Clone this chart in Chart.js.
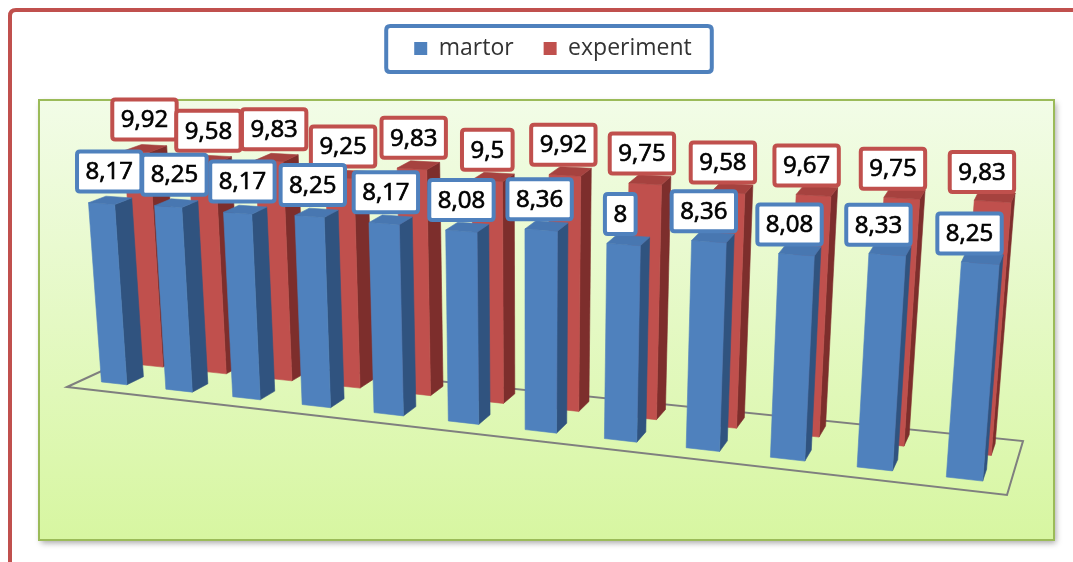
<!DOCTYPE html>
<html>
<head>
<meta charset="utf-8">
<script src="https://cdn.jsdelivr.net/npm/chart.js@4.4.1/dist/chart.umd.min.js"></script>
<style>
  html, body { margin: 0; padding: 0; background: #ffffff; }
  canvas { display: block; }
</style>
</head>
<body>
<canvas id="chart" width="1073" height="562"></canvas>
<script>
// ---- data ----
const categories = ['1', '2', '3', '4', '5', '6', '7', '8', '9', '10', '11', '12'];
const seriesNames = ['martor', 'experiment'];
const martor = [8.17, 8.25, 8.17, 8.25, 8.17, 8.08, 8.36, 8, 8.36, 8.08, 8.33, 8.25];
const experiment = [9.92, 9.58, 9.83, 9.25, 9.83, 9.5, 9.92, 9.75, 9.58, 9.67, 9.75, 9.83];

// ---- look ----
const seriesColors = ['#4f81bd', '#c0504d'];
const faceColors = [
  { front: '#4f81bd', side: '#30537f', top: '#4877b1' },
  { front: '#c0504d', side: '#7d2e2c', top: '#a6423f' }
];
// depth slots (0 = front edge of floor, 1 = back edge) for each series
const depthSlots = [[0.20, 0.42], [0.68, 0.90]];

// perspective view of the 3D column scene
const VIEW = {
  front: [67, 387], frontEnd: [1007, 495], // floor front edge
  depthL: [78, -36], depthR: [16, -54],    // floor depth vectors at both ends
  warp: 0.238,                             // foreshortening along the category axis
  unit0: 22, unit1: 4.6,                   // pixels per value unit (far end / growth)
  depthShrink: 0.02, topFlatten: 0.01,
  vanishX: 530, vanishK: 5950              // convergence of vertical edges
};

function warpU(u) { return (u + VIEW.warp * u * u) / (1 + VIEW.warp); }

function project(u, z, v) {
  const g = warpU(u);
  const dx = VIEW.depthL[0] + g * (VIEW.depthR[0] - VIEW.depthL[0]);
  const dy = VIEW.depthL[1] + g * (VIEW.depthR[1] - VIEW.depthL[1]);
  const bx = VIEW.front[0] + g * (VIEW.frontEnd[0] - VIEW.front[0]) + z * dx;
  const by = VIEW.front[1] + g * (VIEW.frontEnd[1] - VIEW.front[1]) + z * dy * (1 - VIEW.topFlatten * v);
  const h = v * (VIEW.unit0 + VIEW.unit1 * g) * (1 - VIEW.depthShrink * z);
  const tilt = (bx - VIEW.vanishX) / VIEW.vanishK;
  return { x: bx + tilt * h, y: by - h, g: g };
}

function poly(ctx, pts, fill) {
  ctx.beginPath();
  ctx.moveTo(pts[0].x, pts[0].y);
  for (let i = 1; i < pts.length; i++) ctx.lineTo(pts[i].x, pts[i].y);
  ctx.closePath();
  ctx.fillStyle = fill;
  ctx.fill();
  ctx.strokeStyle = fill;
  ctx.lineWidth = 0.6;
  ctx.stroke();
}

function roundRect(ctx, x, y, w, h, r) {
  ctx.beginPath();
  ctx.moveTo(x + r, y);
  ctx.lineTo(x + w - r, y);
  ctx.quadraticCurveTo(x + w, y, x + w, y + r);
  ctx.lineTo(x + w, y + h - r);
  ctx.quadraticCurveTo(x + w, y + h, x + w - r, y + h);
  ctx.lineTo(x + r, y + h);
  ctx.quadraticCurveTo(x, y + h, x, y + h - r);
  ctx.lineTo(x, y + r);
  ctx.quadraticCurveTo(x, y, x + r, y);
  ctx.closePath();
}

function formatValue(v) { return String(v).replace('.', ','); }

const scenePlugin = {
  id: 'scene',
  beforeDraw(chart) {
    const ctx = chart.ctx;
    ctx.save();
    ctx.fillStyle = '#ffffff';
    ctx.fillRect(0, 0, chart.width, chart.height);

    // outer chart frame
    ctx.strokeStyle = '#c0504d';
    ctx.lineWidth = 4;
    roundRect(ctx, 10, 10, chart.width + 40, chart.height + 40, 6);
    ctx.stroke();

    // plot panel with gradient fill and soft shadow
    const px = 39, py = 100, pw = 1015, ph = 440;
    const grad = ctx.createLinearGradient(0, py, 0, py + ph);
    grad.addColorStop(0, '#f2fce7');
    grad.addColorStop(1, '#d7f6a1');
    ctx.save();
    ctx.shadowColor = 'rgba(0,0,0,0.35)';
    ctx.shadowBlur = 6;
    ctx.shadowOffsetX = 2;
    ctx.shadowOffsetY = 3;
    ctx.fillStyle = grad;
    ctx.fillRect(px, py, pw, ph);
    ctx.restore();
    ctx.strokeStyle = '#9bbb59';
    ctx.lineWidth = 2;
    ctx.strokeRect(px, py, pw, ph);

    // legend frame
    const hb = chart.legend.legendHitBoxes;
    if (hb && hb.length) {
      const first = hb[0], last = hb[hb.length - 1];
      const lx = first.left - 28;
      const rx = last.left + last.width + 20;
      const ty = first.top - 11;
      ctx.fillStyle = '#ffffff';
      roundRect(ctx, lx, ty, rx - lx, 46, 4);
      ctx.fill();
      ctx.strokeStyle = '#4f81bd';
      ctx.lineWidth = 4;
      ctx.stroke();
    }
    ctx.restore();
  },
  beforeDatasetsDraw(chart) {
    const ctx = chart.ctx;
    const xs = chart.scales.x, ys = chart.scales.y;
    ctx.save();

    // floor outline
    const f = [project(0, 0, 0), project(1, 0, 0), project(1, 1, 0), project(0, 1, 0)];
    ctx.beginPath();
    ctx.moveTo(f[0].x, f[0].y);
    for (let i = 1; i < 4; i++) ctx.lineTo(f[i].x, f[i].y);
    ctx.closePath();
    ctx.strokeStyle = '#7f7f7f';
    ctx.lineWidth = 2;
    ctx.stroke();

    // columns, back series first
    const labelJobs = [];
    for (let ds = chart.data.datasets.length - 1; ds >= 0; ds--) {
      const meta = chart.getDatasetMeta(ds);
      const [z0, z1] = depthSlots[ds];
      const col = faceColors[ds];
      meta.data.forEach((el) => {
        const uL = (el.x - el.width / 2 - xs.left) / xs.width;
        const uR = (el.x + el.width / 2 - xs.left) / xs.width;
        const v = ys.getValueForPixel(el.y);
        const fbl = project(uL, z0, 0), fbr = project(uR, z0, 0);
        const ftl = project(uL, z0, v), ftr = project(uR, z0, v);
        const bbr = project(uR, z1, 0), btr = project(uR, z1, v), btl = project(uL, z1, v);
        poly(ctx, [fbr, bbr, btr, ftr], col.side);
        poly(ctx, [fbl, fbr, ftr, ftl], col.front);
        poly(ctx, [ftl, ftr, btr, btl], col.top);
        labelJobs.push({ ds, v, anchor: project((uL + uR) / 2, (z0 + z1) / 2, v) });
      });
    }

    // value labels
    ctx.font = '24px "Open Sans"';
    ctx.textAlign = 'center';
    ctx.textBaseline = 'middle';
    labelJobs.forEach((job) => {
      const text = formatValue(job.v);
      const w = ctx.measureText(text).width + 21;
      const h = 44;
      const cx = job.anchor.x - 0.5 - 13 * job.anchor.g;
      const bottom = job.anchor.y - 7 + 4.5 * job.anchor.g;
      const x = cx - w / 2, y = bottom - h;
      roundRect(ctx, x + 2, y + 2, w - 4, h - 4, 3);
      ctx.fillStyle = '#ffffff';
      ctx.fill();
      ctx.strokeStyle = seriesColors[job.ds];
      ctx.lineWidth = 4;
      ctx.stroke();
      ctx.fillStyle = '#000000';
      ctx.strokeStyle = '#000000';
      ctx.lineWidth = 0.7;
      ctx.fillText(text, cx, y + h / 2 + 1);
      ctx.strokeText(text, cx, y + h / 2 + 1);
    });

    ctx.restore();
    return false;
  }
};

function build() {
  new Chart(document.getElementById('chart'), {
    type: 'bar',
    data: {
      labels: categories,
      datasets: [
        { label: seriesNames[0], data: martor, backgroundColor: seriesColors[0], borderWidth: 0, grouped: false },
        { label: seriesNames[1], data: experiment, backgroundColor: seriesColors[1], borderWidth: 0, grouped: false }
      ]
    },
    options: {
      responsive: false,
      animation: false,
      devicePixelRatio: 1,
      events: [],
      categoryPercentage: 1,
      barPercentage: 0.4,
      layout: { padding: { top: 7, left: 33, right: 0, bottom: 0 } },
      scales: {
        x: { display: false },
        y: { display: false, min: 0, max: 12 }
      },
      plugins: {
        tooltip: { enabled: false },
        legend: {
          display: true,
          position: 'top',
          align: 'center',
          labels: {
            boxWidth: 13,
            boxHeight: 13,
            padding: 30,
            color: '#333333',
            font: { family: '"Open Sans"', size: 23 }
          }
        }
      }
    },
    plugins: [scenePlugin]
  });
}

if (document.fonts && document.fonts.load) {
  Promise.all([
    document.fonts.load('24px "Open Sans"'),
    document.fonts.load('23px "Open Sans"')
  ]).then(build, build);
} else {
  build();
}
</script>
</body>
</html>
